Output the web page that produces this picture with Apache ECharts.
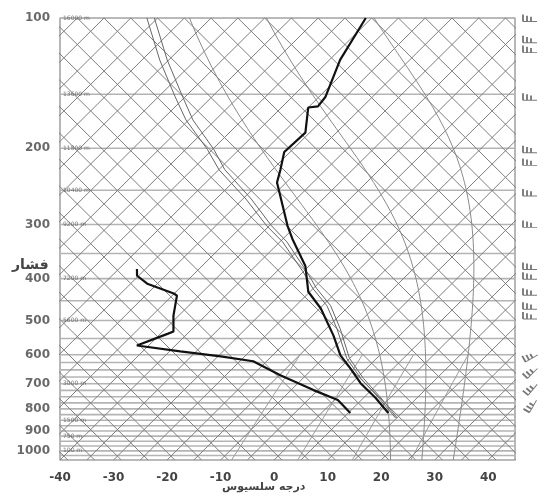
<!DOCTYPE html>
<html><head><meta charset="utf-8">
<script src="https://cdn.jsdelivr.net/npm/echarts@6/dist/echarts.min.js"></script>
<style>html,body{margin:0;padding:0;background:#fff}#c{width:545px;height:498px}</style>
</head><body><div id="c"></div>
<script>
// ---- data ----
const pressureTicks = [100,200,300,400,500,600,700,800,900,1000];
const xTicks = [-40,-30,-20,-10,0,10,20,30,40];
const heightLevels = [100,150,200,250,300,400,500,700,850,925,1000];
const heightLabels = ['16000 m','13600 m','11800 m','10400 m','9200 m','7200 m','5600 m','3000 m','1500 m','750 m','100 m'];
const isobars = [100,150,200,250,300,350,400,450,500,550,600,625,650,675,700,725,750,775,800,825,850,875,900,925,950,975,1000,1025,1050];
const isothermTemps = [];
for (let t = -150; t <= 45; t += 5) isothermTemps.push(t);
const crossTemps = [];
for (let t = -215; t <= -30; t += 5) crossTemps.push(t);
const moistThetaW = [20, 26, 32];
const mixingRatios = [2, 5, 10, 20];

const tempP = [100,125,152,160,161,184,204,224,240,302,324,374,429,469,541,602,645,698,755,818];
const tempT = [-66.1,-63.0,-58.8,-58.4,-60.0,-55.8,-56.1,-53.5,-51.7,-41.6,-38.2,-30.7,-25.3,-19.8,-12.4,-7.3,-3.0,1.7,7.3,12.5];
const dewP = [380,394,411,433,438,487,530,536,571,589,605,621,669,724,763,818];
const dewT = [-61.6,-60.3,-56.9,-50.1,-49.1,-46.0,-43.0,-43.6,-47.2,-38.0,-29.5,-22.5,-14.8,-5.8,0.6,5.4];
const parcelP = [100,125,152,172,201,224,262,302,329,386,422,462,522,611,680,755,840];
const parcelT = [-107.0,-96.7,-86.9,-80.5,-71.0,-65.0,-54.4,-45.5,-39.5,-30.0,-25.0,-19.2,-13.0,-5.6,0.8,7.9,14.8];
const parcel2T = [-105.6,-95.3,-85.5,-79.2,-69.8,-63.9,-53.4,-44.6,-38.7,-29.3,-24.3,-18.5,-12.4,-5.1,1.3,8.3,15.1];
const windP = [100,112,118,152,201,215,253,299,374,394,429,462,487,602,654,714,782];
const windRot = [0,0,0,0,0,0,0,0,0,0,0,0,0,30,45,50,60];

// ---- skew-T transform ----
const K = 81.5, P0 = 1050;
const sx = (T, p) => T + K * Math.log10(P0 / p);
const span = K * Math.log10(P0 / 100);

const gridColor = '#7e7e7e';
const series = [];
function addLine(data, style, z) {
  series.push({type:'line', data, symbol:'none', silent:true, animation:false,
    lineStyle:style, z: z || 1, xAxisIndex:0, yAxisIndex:0});
}
// isobars
isobars.forEach(p => addLine([[-40,p],[45,p]], {color:'#b4b4b4', width:1.6}));
// isotherms (up-right)
isothermTemps.forEach(t => addLine([[sx(t,1050),1050],[sx(t,100),100]], {color:gridColor, width:1}));
// crossing family (up-left), through the isotherm crossings on the top edge
crossTemps.forEach(t => {
  const xt = sx(t, 100);
  addLine([[xt + span, 1050],[xt, 100]], {color:gridColor, width:1});
});
// moist adiabats
function moistDTdp(T, p) {
  const Rd=287.04, cp=1005.7, L=2.501e6, eps=0.622;
  const es = 6.112*Math.exp(17.67*(T-273.15)/(T-29.65));
  const rs = eps*es/(p-es);
  return (Rd*T + L*rs)/(p*(cp + L*L*rs*eps/(Rd*T*T)));
}
moistThetaW.forEach(tw => {
  const d = [];
  let T = tw + 273.15, p = 1000;
  let Td = T; for (let q = 1000; q < 1050; q += 1) Td += moistDTdp(Td, q);
  d.push([sx(Td-273.15,1050),1050]);
  while (p >= 100) {
    if (p % 10 === 0) d.push([sx(T-273.15,p), p]);
    T -= moistDTdp(T, p); p -= 1;
  }
  addLine(d, {color:'#8a8a8a', width:1});
});
// mixing ratio lines
mixingRatios.forEach(w => {
  const d = [];
  for (let p = 1050; p >= 600; p -= 50) {
    const e = (w/1000)*p/(0.622 + w/1000);
    const l = Math.log(e/6.112);
    d.push([sx(243.5*l/(17.67-l), p), p]);
  }
  addLine(d, {color:'#9a9a9a', width:1});
});
// parcel lines
addLine(parcelT.map((t,i)=>[sx(t,parcelP[i]),parcelP[i]]), {color:'#666', width:1}, 3);
addLine(parcel2T.map((t,i)=>[sx(t,parcelP[i]),parcelP[i]]), {color:'#666', width:1}, 3);
// temperature and dewpoint
addLine(tempT.map((t,i)=>[sx(t,tempP[i]),tempP[i]]), {color:'#111', width:2.2}, 5);
addLine(dewT.map((t,i)=>[sx(t,dewP[i]),dewP[i]]), {color:'#111', width:2.2}, 5);

// pressure labels
series.push({type:'scatter', symbolSize:0, silent:true, animation:false, clip:false,
  data: pressureTicks.map(p=>[-40,p]),
  label:{show:true, position:'left', distance:10, formatter:o=>o.value[1],
    fontFamily:'DejaVu Sans', fontSize:12, fontWeight:'bold', color:'#444'}});
// height labels
series.push({type:'scatter', symbolSize:0, silent:true, animation:false, clip:false,
  data: heightLevels.map((p,i)=>({value:[-40,p], name:heightLabels[i]})),
  label:{show:true, position:'right', distance:3, formatter:o=>o.name,
    fontFamily:'DejaVu Sans', fontSize:6, color:'#555'}, z:6});
// wind barbs
series.push({type:'scatter', xAxisIndex:1, yAxisIndex:1, silent:true, animation:false, clip:false,
  data: windP.map((p,i)=>({value:[0,p], symbolRotate:windRot[i]})),
  symbol:'path://M0,6 L14,6 M0,6 L0,0 M4,6 L4,1 M8,6 L8,2',
  symbolSize:[14,7],
  itemStyle:{color:'rgba(0,0,0,0)', borderColor:'#555', borderWidth:1.3}});

const option = {
  backgroundColor:'#fff',
  animation:false,
  grid:[
    {left:60, right:30, top:18, bottom:38, show:true, borderColor:'#888', borderWidth:1.2, backgroundColor:'#fff'},
    {left:520, width:20, top:18, bottom:38, show:false}
  ],
  xAxis:[
    {type:'value', min:-40, max:45, interval:10, gridIndex:0,
     axisLine:{show:false}, axisTick:{show:false}, splitLine:{show:false},
     axisLabel:{margin:12, fontFamily:'DejaVu Sans', fontSize:12, fontWeight:'bold', color:'#444',
       showMaxLabel:false, formatter:v => xTicks.includes(v) ? String(v) : ''}},
    {type:'value', min:-1, max:1, gridIndex:1, show:false}
  ],
  yAxis:[
    {type:'log', logBase:10, min:100, max:1050, inverse:true, gridIndex:0,
     axisLine:{show:false}, axisTick:{show:false}, splitLine:{show:false}, axisLabel:{show:false}},
    {type:'log', logBase:10, min:100, max:1050, inverse:true, gridIndex:1, show:false}
  ],
  graphic:[
    {type:'text', left:12, top:258, style:{text:'فشار', font:'bold 14px "DejaVu Sans"', fill:'#444'}},
    {type:'text', left:222, top:482, style:{text:'درجه سلسیوس', font:'bold 11px "DejaVu Sans"', fill:'#444'}}
  ],
  series
};
const chart = echarts.init(document.getElementById('c'), null, {renderer:'canvas'});
chart.setOption(option);
</script></body></html>
